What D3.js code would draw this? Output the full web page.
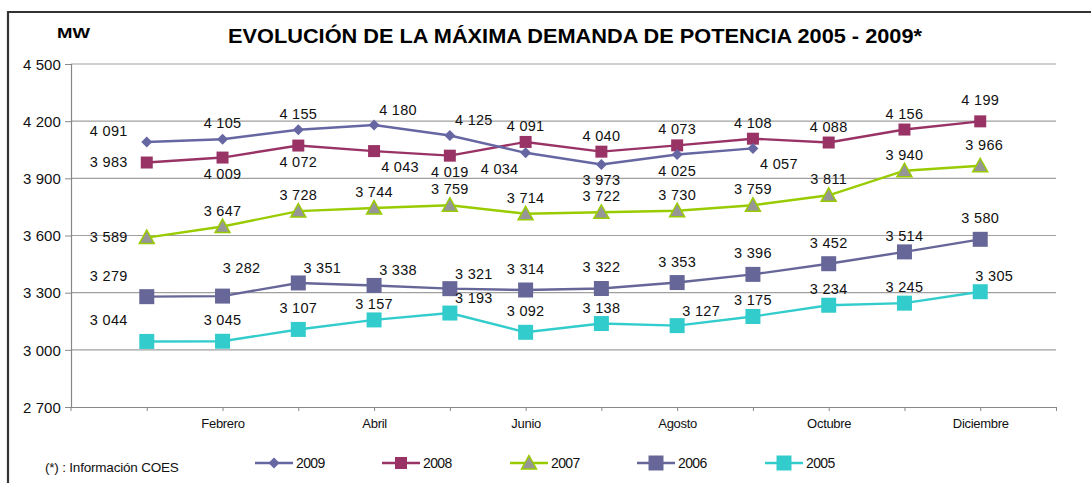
<!DOCTYPE html>
<html><head><meta charset="utf-8">
<script src="https://cdn.jsdelivr.net/npm/d3@7"></script>
<style>
body{margin:0;background:#fff;}
svg{display:block;font-family:"Liberation Sans",Arial,sans-serif;}
</style></head>
<body><svg id="c" width="1091" height="483"></svg>
<script>
const months = ["Enero","Febrero","Marzo","Abril","Mayo","Junio","Julio","Agosto","Septiembre","Octubre","Noviembre","Diciembre"];
const shownMonths = ["Febrero","Abril","Junio","Agosto","Octubre","Diciembre"];
const yTicks = [2700,3000,3300,3600,3900,4200,4500];
const years = ["2009","2008","2007","2006","2005"];
const v2009 = [4091,4105,4155,4180,4125,4034,3973,4025,4057];
const v2008 = [3983,4009,4072,4043,4019,4091,4040,4073,4108,4088,4156,4199];
const v2007 = [3589,3647,3728,3744,3759,3714,3722,3730,3759,3811,3940,3966];
const v2006 = [3279,3282,3351,3338,3321,3314,3322,3353,3396,3452,3514,3580];
const v2005 = [3044,3045,3107,3157,3193,3092,3138,3127,3175,3234,3245,3305];
// label placement codes (L left, A above, B below, AR above-right, BR below-right, BL below-left, LA left-above)
const lab2009 = ["LA","A","A","AR","AR","BL","B","B","BR"];
const lab2008 = ["L","B","B","BR","B","A","A","A","A","A","A","A2"];
const lab2007 = ["L","A","A","A","A","A","A","A","A","A","A","AR2"];
const lab2006 = ["LA2","AR3","AR","AR","AR","A2","A2","A2","A2","A2","A","A2"];
const lab2005 = ["LA2","A2","A2","A","AR","A2","A","AR","A","A","A","AR1"];

const series = [
  {name:years[0], values:v2009, labels:lab2009, color:"#6666a3", marker:"diamond", size:11},
  {name:years[1], values:v2008, labels:lab2008, color:"#993366", marker:"square", size:12},
  {name:years[2], values:v2007, labels:lab2007, color:"#99cc00", marker:"triangle", size:15, fill:"#969696"},
  {name:years[3], values:v2006, labels:lab2006, color:"#666699", marker:"square", size:15},
  {name:years[4], values:v2005, labels:lab2005, color:"#33cccc", marker:"square", size:15}
];

const svg = d3.select("#c");
// frame
svg.append("path").attr("d","M8,483 V12 H1091").attr("fill","none").attr("stroke","#333").attr("stroke-width",2.2);

const x = d3.scaleLinear().domain([0,13]).range([71,1056]);
const y = d3.scaleLinear().domain([2700,4500]).range([407,64]);

// gridlines
svg.append("g").selectAll("line").data(yTicks.filter(t=>t>2700)).join("line")
  .attr("x1",71).attr("x2",1056).attr("y1",d=>y(d)).attr("y2",d=>y(d))
  .attr("stroke","#a0a0a0").attr("stroke-width",1.2);

const fmt = v => { const s = String(v); return s.length>3 ? s.slice(0,s.length-3)+" "+s.slice(-3) : s; };

// y axis
const ya = svg.append("g").attr("transform","translate(71,0)")
  .call(d3.axisLeft(y).tickValues(yTicks).tickSize(6).tickFormat(fmt));
ya.select(".domain").attr("stroke","#888").attr("stroke-width",1.2);
ya.selectAll(".tick line").attr("stroke","#888");
ya.selectAll("text").attr("font-size",15).attr("fill","#111").attr("x",-10).attr("dy","0.35em").attr("letter-spacing","0.1");

// x axis
const xa = svg.append("g").attr("transform","translate(0,407)")
  .call(d3.axisBottom(x).tickValues(d3.range(1,14)).tickSize(4).tickSizeOuter(0)
    .tickFormat(i => { const m = months[i-1]; return shownMonths.includes(m) ? m : ""; }));
xa.select(".domain").attr("stroke","#888").attr("stroke-width",1.2);
xa.selectAll(".tick line").attr("stroke","#888");
xa.selectAll("text").attr("font-size",13).attr("fill","#111").attr("y",12).attr("letter-spacing","-0.3");

svg.append("line").attr("x1",x(0)).attr("x2",x(0)).attr("y1",407).attr("y2",411).attr("stroke","#888");

function diamondPath(size){ const h=size/2; return `M0,${-h}L${h},0L0,${h}L${-h},0Z`; }
function triPath(size){ const h=size/2; return `M0,${-h}L${h},${h*0.8}L${-h},${h*0.8}Z`; }
function sqPath(size){ const h=size/2; return `M${-h},${-h}H${h}V${h}H${-h}Z`; }
function mk(s){ return s.marker==="diamond"?diamondPath(s.size):s.marker==="triangle"?triPath(s.size):sqPath(s.size); }

const line = d3.line().x((d,i)=>x(i+1)).y(d=>y(d));

const offs = {L:[-38,4],LA:[-38,-6],LA2:[-38,-16],A:[0,-11],A2:[0,-16],AR:[24,-10],AR1:[14,-11],AR2:[4,-16],AR3:[19,-23],B:[0,21],BR:[26,21],BL:[-26,21]};

[...series].reverse().forEach(s=>{
  const g = svg.append("g");
  g.append("path").datum(s.values).attr("d",line).attr("fill","none").attr("stroke",s.color).attr("stroke-width",2.4);
  g.selectAll("path.m").data(s.values).join("path").attr("class","m")
    .attr("transform",(d,i)=>`translate(${x(i+1)},${y(d)})`)
    .attr("d",mk(s))
    .attr("fill",s.fill||s.color).attr("stroke",s.color).attr("stroke-width",s.fill?1.5:0);
});
series.forEach(s=>{
  svg.append("g").selectAll("text").data(s.values).join("text")
    .attr("x",(d,i)=>x(i+1)+offs[s.labels[i]][0])
    .attr("y",(d,i)=>y(d)+offs[s.labels[i]][1])
    .attr("text-anchor","middle").attr("font-size",14.5).attr("fill","#111").attr("letter-spacing","0.3")
    .text(d=>fmt(d));
});

// title
svg.append("text").attr("x",575).attr("y",43).attr("text-anchor","middle")
  .attr("font-size",21).attr("font-weight","bold").attr("fill","#000")
  .attr("textLength",694).attr("lengthAdjust","spacingAndGlyphs")
  .text("EVOLUCIÓN DE LA MÁXIMA DEMANDA  DE POTENCIA 2005 - 2009*");
svg.append("text").attr("x",57).attr("y",38).attr("font-size",14).attr("font-weight","bold")
  .attr("textLength",33).attr("lengthAdjust","spacingAndGlyphs").text("MW");

// legend
const legX = [255,382,510,637,765];
series.forEach((s,i)=>{
  const g = svg.append("g").attr("transform",`translate(${legX[i]},463)`);
  g.append("line").attr("x1",0).attr("x2",38).attr("stroke",s.color).attr("stroke-width",2.4);
  g.append("path").attr("transform","translate(19,0)").attr("d",mk(s))
    .attr("fill",s.fill||s.color).attr("stroke",s.color).attr("stroke-width",s.fill?1.5:0);
  g.append("text").attr("x",41).attr("y",5).attr("font-size",14).attr("letter-spacing","-0.6").attr("fill","#111").text(s.name);
});
svg.append("text").attr("x",45).attr("y",472).attr("font-size",13.5).attr("letter-spacing","-0.2").attr("fill","#111").text("(*) : Información COES");
</script></body></html>
